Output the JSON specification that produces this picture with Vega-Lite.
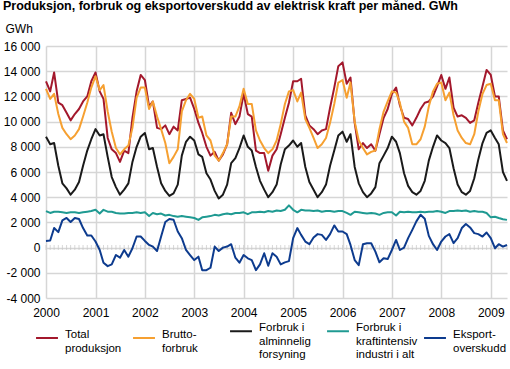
{
  "$schema": "https://vega.github.io/schema/vega-lite/v6.json",
  "autosize": {"type": "none"},
  "padding": {"left": 46, "top": 46, "right": 3, "bottom": 71},
  "width": 461,
  "height": 252,
  "background": "white",
  "config": {
    "font": "Liberation Sans",
    "view": {"stroke": null},
    "axis": {"labelFont": "Liberation Sans", "labelFontSize": 12, "labelColor": "#000000", "gridColor": "#d6d6d6", "gridWidth": 1.5, "domain": false, "ticks": false},
    "legend": {"labelFont": "Liberation Sans", "labelFontSize": 11.5, "labelColor": "#000000"}
  },
  "title": {
    "text": "Produksjon, forbruk og eksportoverskudd av elektrisk kraft per måned. GWh",
    "anchor": "start",
    "frame": "group",
    "font": "Liberation Sans",
    "fontSize": 12.5,
    "fontWeight": "bold",
    "color": "#000000",
    "dx": -43,
    "offset": 10
  },
  "datasets": {
    "rows": [
      {"t":"2000-01-01","Total produksjon":13200,"Bruttoforbruk":12600,"Forbruk i alminnelig forsyning":8800,"Forbruk i kraftintensiv industri i alt":2900,"Eksportoverskudd":530},
      {"t":"2000-02-01","Total produksjon":12400,"Bruttoforbruk":11800,"Forbruk i alminnelig forsyning":8200,"Forbruk i kraftintensiv industri i alt":2750,"Eksportoverskudd":560},
      {"t":"2000-03-01","Total produksjon":13900,"Bruttoforbruk":12200,"Forbruk i alminnelig forsyning":8300,"Forbruk i kraftintensiv industri i alt":2850,"Eksportoverskudd":1550},
      {"t":"2000-04-01","Total produksjon":11500,"Bruttoforbruk":10600,"Forbruk i alminnelig forsyning":6500,"Forbruk i kraftintensiv industri i alt":2850,"Eksportoverskudd":1230},
      {"t":"2000-05-01","Total produksjon":11300,"Bruttoforbruk":9500,"Forbruk i alminnelig forsyning":5100,"Forbruk i kraftintensiv industri i alt":2800,"Eksportoverskudd":2160},
      {"t":"2000-06-01","Total produksjon":10700,"Bruttoforbruk":9000,"Forbruk i alminnelig forsyning":4700,"Forbruk i kraftintensiv industri i alt":2750,"Eksportoverskudd":2350},
      {"t":"2000-07-01","Total produksjon":10100,"Bruttoforbruk":8600,"Forbruk i alminnelig forsyning":4200,"Forbruk i kraftintensiv industri i alt":2800,"Eksportoverskudd":2030},
      {"t":"2000-08-01","Total produksjon":10600,"Bruttoforbruk":8900,"Forbruk i alminnelig forsyning":4600,"Forbruk i kraftintensiv industri i alt":2800,"Eksportoverskudd":2350},
      {"t":"2000-09-01","Total produksjon":11000,"Bruttoforbruk":9400,"Forbruk i alminnelig forsyning":5200,"Forbruk i kraftintensiv industri i alt":2750,"Eksportoverskudd":2270},
      {"t":"2000-10-01","Total produksjon":11600,"Bruttoforbruk":10400,"Forbruk i alminnelig forsyning":6500,"Forbruk i kraftintensiv industri i alt":2800,"Eksportoverskudd":1550},
      {"t":"2000-11-01","Total produksjon":12000,"Bruttoforbruk":11500,"Forbruk i alminnelig forsyning":7700,"Forbruk i kraftintensiv industri i alt":2850,"Eksportoverskudd":960},
      {"t":"2000-12-01","Total produksjon":13200,"Bruttoforbruk":12700,"Forbruk i alminnelig forsyning":8600,"Forbruk i kraftintensiv industri i alt":2900,"Eksportoverskudd":960},
      {"t":"2001-01-01","Total produksjon":13900,"Bruttoforbruk":13600,"Forbruk i alminnelig forsyning":9400,"Forbruk i kraftintensiv industri i alt":3000,"Eksportoverskudd":480},
      {"t":"2001-02-01","Total produksjon":12400,"Bruttoforbruk":12500,"Forbruk i alminnelig forsyning":8900,"Forbruk i kraftintensiv industri i alt":2700,"Eksportoverskudd":-190},
      {"t":"2001-03-01","Total produksjon":11800,"Bruttoforbruk":12900,"Forbruk i alminnelig forsyning":9000,"Forbruk i kraftintensiv industri i alt":3000,"Eksportoverskudd":-1200},
      {"t":"2001-04-01","Total produksjon":8700,"Bruttoforbruk":10800,"Forbruk i alminnelig forsyning":7200,"Forbruk i kraftintensiv industri i alt":2850,"Eksportoverskudd":-1470},
      {"t":"2001-05-01","Total produksjon":7800,"Bruttoforbruk":9200,"Forbruk i alminnelig forsyning":5600,"Forbruk i kraftintensiv industri i alt":2850,"Eksportoverskudd":-1330},
      {"t":"2001-06-01","Total produksjon":7500,"Bruttoforbruk":7900,"Forbruk i alminnelig forsyning":4800,"Forbruk i kraftintensiv industri i alt":2750,"Eksportoverskudd":-590},
      {"t":"2001-07-01","Total produksjon":6800,"Bruttoforbruk":7400,"Forbruk i alminnelig forsyning":4200,"Forbruk i kraftintensiv industri i alt":2700,"Eksportoverskudd":-800},
      {"t":"2001-08-01","Total produksjon":7700,"Bruttoforbruk":7800,"Forbruk i alminnelig forsyning":4600,"Forbruk i kraftintensiv industri i alt":2700,"Eksportoverskudd":-190},
      {"t":"2001-09-01","Total produksjon":7500,"Bruttoforbruk":8100,"Forbruk i alminnelig forsyning":5100,"Forbruk i kraftintensiv industri i alt":2750,"Eksportoverskudd":-720},
      {"t":"2001-10-01","Total produksjon":10300,"Bruttoforbruk":9500,"Forbruk i alminnelig forsyning":6800,"Forbruk i kraftintensiv industri i alt":2750,"Eksportoverskudd":-50},
      {"t":"2001-11-01","Total produksjon":12400,"Bruttoforbruk":11900,"Forbruk i alminnelig forsyning":8000,"Forbruk i kraftintensiv industri i alt":2800,"Eksportoverskudd":880},
      {"t":"2001-12-01","Total produksjon":13700,"Bruttoforbruk":12700,"Forbruk i alminnelig forsyning":8800,"Forbruk i kraftintensiv industri i alt":2750,"Eksportoverskudd":880},
      {"t":"2002-01-01","Total produksjon":13300,"Bruttoforbruk":12700,"Forbruk i alminnelig forsyning":9100,"Forbruk i kraftintensiv industri i alt":2800,"Eksportoverskudd":530},
      {"t":"2002-02-01","Total produksjon":11200,"Bruttoforbruk":11000,"Forbruk i alminnelig forsyning":7800,"Forbruk i kraftintensiv industri i alt":2500,"Eksportoverskudd":210},
      {"t":"2002-03-01","Total produksjon":11600,"Bruttoforbruk":11600,"Forbruk i alminnelig forsyning":7900,"Forbruk i kraftintensiv industri i alt":2750,"Eksportoverskudd":80},
      {"t":"2002-04-01","Total produksjon":9500,"Bruttoforbruk":10400,"Forbruk i alminnelig forsyning":6400,"Forbruk i kraftintensiv industri i alt":2650,"Eksportoverskudd":-270},
      {"t":"2002-05-01","Total produksjon":9400,"Bruttoforbruk":9400,"Forbruk i alminnelig forsyning":5100,"Forbruk i kraftintensiv industri i alt":2700,"Eksportoverskudd":880},
      {"t":"2002-06-01","Total produksjon":9700,"Bruttoforbruk":8300,"Forbruk i alminnelig forsyning":4500,"Forbruk i kraftintensiv industri i alt":2550,"Eksportoverskudd":2030},
      {"t":"2002-07-01","Total produksjon":9000,"Bruttoforbruk":6700,"Forbruk i alminnelig forsyning":4100,"Forbruk i kraftintensiv industri i alt":2600,"Eksportoverskudd":2270},
      {"t":"2002-08-01","Total produksjon":9600,"Bruttoforbruk":7200,"Forbruk i alminnelig forsyning":4300,"Forbruk i kraftintensiv industri i alt":2500,"Eksportoverskudd":2210},
      {"t":"2002-09-01","Total produksjon":9300,"Bruttoforbruk":7800,"Forbruk i alminnelig forsyning":5000,"Forbruk i kraftintensiv industri i alt":2450,"Eksportoverskudd":1280},
      {"t":"2002-10-01","Total produksjon":11700,"Bruttoforbruk":10800,"Forbruk i alminnelig forsyning":7300,"Forbruk i kraftintensiv industri i alt":2500,"Eksportoverskudd":750},
      {"t":"2002-11-01","Total produksjon":11800,"Bruttoforbruk":11700,"Forbruk i alminnelig forsyning":8400,"Forbruk i kraftintensiv industri i alt":2450,"Eksportoverskudd":-190},
      {"t":"2002-12-01","Total produksjon":11900,"Bruttoforbruk":12200,"Forbruk i alminnelig forsyning":8800,"Forbruk i kraftintensiv industri i alt":2400,"Eksportoverskudd":-590},
      {"t":"2003-01-01","Total produksjon":11000,"Bruttoforbruk":11800,"Forbruk i alminnelig forsyning":8500,"Forbruk i kraftintensiv industri i alt":2350,"Eksportoverskudd":-990},
      {"t":"2003-02-01","Total produksjon":9900,"Bruttoforbruk":10300,"Forbruk i alminnelig forsyning":7400,"Forbruk i kraftintensiv industri i alt":2200,"Eksportoverskudd":-720},
      {"t":"2003-03-01","Total produksjon":9100,"Bruttoforbruk":10400,"Forbruk i alminnelig forsyning":7200,"Forbruk i kraftintensiv industri i alt":2400,"Eksportoverskudd":-1790},
      {"t":"2003-04-01","Total produksjon":8000,"Bruttoforbruk":8900,"Forbruk i alminnelig forsyning":5900,"Forbruk i kraftintensiv industri i alt":2450,"Eksportoverskudd":-1790},
      {"t":"2003-05-01","Total produksjon":7300,"Bruttoforbruk":8500,"Forbruk i alminnelig forsyning":5400,"Forbruk i kraftintensiv industri i alt":2500,"Eksportoverskudd":-1600},
      {"t":"2003-06-01","Total produksjon":7600,"Bruttoforbruk":7300,"Forbruk i alminnelig forsyning":4500,"Forbruk i kraftintensiv industri i alt":2600,"Eksportoverskudd":80},
      {"t":"2003-07-01","Total produksjon":6900,"Bruttoforbruk":6900,"Forbruk i alminnelig forsyning":3900,"Forbruk i kraftintensiv industri i alt":2550,"Eksportoverskudd":-270},
      {"t":"2003-08-01","Total produksjon":7400,"Bruttoforbruk":7500,"Forbruk i alminnelig forsyning":4200,"Forbruk i kraftintensiv industri i alt":2650,"Eksportoverskudd":0},
      {"t":"2003-09-01","Total produksjon":8200,"Bruttoforbruk":8200,"Forbruk i alminnelig forsyning":5000,"Forbruk i kraftintensiv industri i alt":2700,"Eksportoverskudd":80},
      {"t":"2003-10-01","Total produksjon":10700,"Bruttoforbruk":10400,"Forbruk i alminnelig forsyning":6700,"Forbruk i kraftintensiv industri i alt":2650,"Eksportoverskudd":270},
      {"t":"2003-11-01","Total produksjon":9800,"Bruttoforbruk":10400,"Forbruk i alminnelig forsyning":7100,"Forbruk i kraftintensiv industri i alt":2750,"Eksportoverskudd":-800},
      {"t":"2003-12-01","Total produksjon":10400,"Bruttoforbruk":11200,"Forbruk i alminnelig forsyning":7900,"Forbruk i kraftintensiv industri i alt":2750,"Eksportoverskudd":-1200},
      {"t":"2004-01-01","Total produksjon":12200,"Bruttoforbruk":12600,"Forbruk i alminnelig forsyning":8900,"Forbruk i kraftintensiv industri i alt":2800,"Eksportoverskudd":-590},
      {"t":"2004-02-01","Total produksjon":10600,"Bruttoforbruk":11400,"Forbruk i alminnelig forsyning":8000,"Forbruk i kraftintensiv industri i alt":2650,"Eksportoverskudd":-850},
      {"t":"2004-03-01","Total produksjon":10400,"Bruttoforbruk":11400,"Forbruk i alminnelig forsyning":7700,"Forbruk i kraftintensiv industri i alt":2800,"Eksportoverskudd":-990},
      {"t":"2004-04-01","Total produksjon":7700,"Bruttoforbruk":9300,"Forbruk i alminnelig forsyning":6400,"Forbruk i kraftintensiv industri i alt":2800,"Eksportoverskudd":-1790},
      {"t":"2004-05-01","Total produksjon":7500,"Bruttoforbruk":8500,"Forbruk i alminnelig forsyning":5300,"Forbruk i kraftintensiv industri i alt":2850,"Eksportoverskudd":-1330},
      {"t":"2004-06-01","Total produksjon":7500,"Bruttoforbruk":7900,"Forbruk i alminnelig forsyning":4600,"Forbruk i kraftintensiv industri i alt":2800,"Eksportoverskudd":-450},
      {"t":"2004-07-01","Total produksjon":6100,"Bruttoforbruk":7500,"Forbruk i alminnelig forsyning":4000,"Forbruk i kraftintensiv industri i alt":2900,"Eksportoverskudd":-1440},
      {"t":"2004-08-01","Total produksjon":7300,"Bruttoforbruk":7800,"Forbruk i alminnelig forsyning":4400,"Forbruk i kraftintensiv industri i alt":2850,"Eksportoverskudd":-450},
      {"t":"2004-09-01","Total produksjon":7800,"Bruttoforbruk":8500,"Forbruk i alminnelig forsyning":5000,"Forbruk i kraftintensiv industri i alt":2950,"Eksportoverskudd":-720},
      {"t":"2004-10-01","Total produksjon":9000,"Bruttoforbruk":9800,"Forbruk i alminnelig forsyning":6600,"Forbruk i kraftintensiv industri i alt":2900,"Eksportoverskudd":-1330},
      {"t":"2004-11-01","Total produksjon":10300,"Bruttoforbruk":11400,"Forbruk i alminnelig forsyning":7800,"Forbruk i kraftintensiv industri i alt":3000,"Eksportoverskudd":-1170},
      {"t":"2004-12-01","Total produksjon":11500,"Bruttoforbruk":12400,"Forbruk i alminnelig forsyning":8100,"Forbruk i kraftintensiv industri i alt":3350,"Eksportoverskudd":-1070},
      {"t":"2005-01-01","Total produksjon":13200,"Bruttoforbruk":12500,"Forbruk i alminnelig forsyning":8500,"Forbruk i kraftintensiv industri i alt":3000,"Eksportoverskudd":750},
      {"t":"2005-02-01","Total produksjon":13200,"Bruttoforbruk":11600,"Forbruk i alminnelig forsyning":8000,"Forbruk i kraftintensiv industri i alt":2800,"Eksportoverskudd":1550},
      {"t":"2005-03-01","Total produksjon":13400,"Bruttoforbruk":12300,"Forbruk i alminnelig forsyning":8300,"Forbruk i kraftintensiv industri i alt":3000,"Eksportoverskudd":1010},
      {"t":"2005-04-01","Total produksjon":10500,"Bruttoforbruk":10200,"Forbruk i alminnelig forsyning":6400,"Forbruk i kraftintensiv industri i alt":2950,"Eksportoverskudd":480},
      {"t":"2005-05-01","Total produksjon":9700,"Bruttoforbruk":9500,"Forbruk i alminnelig forsyning":5200,"Forbruk i kraftintensiv industri i alt":2950,"Eksportoverskudd":270},
      {"t":"2005-06-01","Total produksjon":9400,"Bruttoforbruk":8700,"Forbruk i alminnelig forsyning":4600,"Forbruk i kraftintensiv industri i alt":2900,"Eksportoverskudd":800},
      {"t":"2005-07-01","Total produksjon":9000,"Bruttoforbruk":7900,"Forbruk i alminnelig forsyning":4000,"Forbruk i kraftintensiv industri i alt":2950,"Eksportoverskudd":1070},
      {"t":"2005-08-01","Total produksjon":9300,"Bruttoforbruk":8200,"Forbruk i alminnelig forsyning":4400,"Forbruk i kraftintensiv industri i alt":2850,"Eksportoverskudd":1010},
      {"t":"2005-09-01","Total produksjon":9400,"Bruttoforbruk":8700,"Forbruk i alminnelig forsyning":5000,"Forbruk i kraftintensiv industri i alt":2900,"Eksportoverskudd":610},
      {"t":"2005-10-01","Total produksjon":11100,"Bruttoforbruk":9900,"Forbruk i alminnelig forsyning":6500,"Forbruk i kraftintensiv industri i alt":2900,"Eksportoverskudd":1070},
      {"t":"2005-11-01","Total produksjon":12700,"Bruttoforbruk":11400,"Forbruk i alminnelig forsyning":7700,"Forbruk i kraftintensiv industri i alt":2850,"Eksportoverskudd":1760},
      {"t":"2005-12-01","Total produksjon":14400,"Bruttoforbruk":13100,"Forbruk i alminnelig forsyning":8900,"Forbruk i kraftintensiv industri i alt":2900,"Eksportoverskudd":1280},
      {"t":"2006-01-01","Total produksjon":14700,"Bruttoforbruk":13300,"Forbruk i alminnelig forsyning":9200,"Forbruk i kraftintensiv industri i alt":2900,"Eksportoverskudd":1280},
      {"t":"2006-02-01","Total produksjon":13000,"Bruttoforbruk":11900,"Forbruk i alminnelig forsyning":8400,"Forbruk i kraftintensiv industri i alt":2750,"Eksportoverskudd":1070},
      {"t":"2006-03-01","Total produksjon":13500,"Bruttoforbruk":13100,"Forbruk i alminnelig forsyning":9000,"Forbruk i kraftintensiv industri i alt":2600,"Eksportoverskudd":210},
      {"t":"2006-04-01","Total produksjon":9900,"Bruttoforbruk":10000,"Forbruk i alminnelig forsyning":6400,"Forbruk i kraftintensiv industri i alt":2850,"Eksportoverskudd":-990},
      {"t":"2006-05-01","Total produksjon":7800,"Bruttoforbruk":8500,"Forbruk i alminnelig forsyning":5100,"Forbruk i kraftintensiv industri i alt":2800,"Eksportoverskudd":-1390},
      {"t":"2006-06-01","Total produksjon":8300,"Bruttoforbruk":7900,"Forbruk i alminnelig forsyning":4400,"Forbruk i kraftintensiv industri i alt":2750,"Eksportoverskudd":270},
      {"t":"2006-07-01","Total produksjon":7900,"Bruttoforbruk":7400,"Forbruk i alminnelig forsyning":4000,"Forbruk i kraftintensiv industri i alt":2700,"Eksportoverskudd":350},
      {"t":"2006-08-01","Total produksjon":8200,"Bruttoforbruk":7600,"Forbruk i alminnelig forsyning":4300,"Forbruk i kraftintensiv industri i alt":2750,"Eksportoverskudd":350},
      {"t":"2006-09-01","Total produksjon":7700,"Bruttoforbruk":7700,"Forbruk i alminnelig forsyning":4800,"Forbruk i kraftintensiv industri i alt":2700,"Eksportoverskudd":-320},
      {"t":"2006-10-01","Total produksjon":9000,"Bruttoforbruk":9400,"Forbruk i alminnelig forsyning":6700,"Forbruk i kraftintensiv industri i alt":2600,"Eksportoverskudd":-1170},
      {"t":"2006-11-01","Total produksjon":10300,"Bruttoforbruk":10800,"Forbruk i alminnelig forsyning":7300,"Forbruk i kraftintensiv industri i alt":2750,"Eksportoverskudd":-850},
      {"t":"2006-12-01","Total produksjon":11000,"Bruttoforbruk":11600,"Forbruk i alminnelig forsyning":7900,"Forbruk i kraftintensiv industri i alt":2800,"Eksportoverskudd":-910},
      {"t":"2007-01-01","Total produksjon":12200,"Bruttoforbruk":12400,"Forbruk i alminnelig forsyning":8800,"Forbruk i kraftintensiv industri i alt":2800,"Eksportoverskudd":-190},
      {"t":"2007-02-01","Total produksjon":12700,"Bruttoforbruk":12300,"Forbruk i alminnelig forsyning":8400,"Forbruk i kraftintensiv industri i alt":2550,"Eksportoverskudd":610},
      {"t":"2007-03-01","Total produksjon":11300,"Bruttoforbruk":11500,"Forbruk i alminnelig forsyning":7500,"Forbruk i kraftintensiv industri i alt":2850,"Eksportoverskudd":-190},
      {"t":"2007-04-01","Total produksjon":10300,"Bruttoforbruk":10000,"Forbruk i alminnelig forsyning":5900,"Forbruk i kraftintensiv industri i alt":2800,"Eksportoverskudd":0},
      {"t":"2007-05-01","Total produksjon":10200,"Bruttoforbruk":9500,"Forbruk i alminnelig forsyning":4900,"Forbruk i kraftintensiv industri i alt":2850,"Eksportoverskudd":750},
      {"t":"2007-06-01","Total produksjon":9700,"Bruttoforbruk":8200,"Forbruk i alminnelig forsyning":4400,"Forbruk i kraftintensiv industri i alt":2800,"Eksportoverskudd":1410},
      {"t":"2007-07-01","Total produksjon":10300,"Bruttoforbruk":8200,"Forbruk i alminnelig forsyning":4200,"Forbruk i kraftintensiv industri i alt":2800,"Eksportoverskudd":2080},
      {"t":"2007-08-01","Total produksjon":11000,"Bruttoforbruk":8600,"Forbruk i alminnelig forsyning":4500,"Forbruk i kraftintensiv industri i alt":2850,"Eksportoverskudd":2610},
      {"t":"2007-09-01","Total produksjon":11500,"Bruttoforbruk":9600,"Forbruk i alminnelig forsyning":5300,"Forbruk i kraftintensiv industri i alt":2800,"Eksportoverskudd":2290},
      {"t":"2007-10-01","Total produksjon":11600,"Bruttoforbruk":11200,"Forbruk i alminnelig forsyning":6900,"Forbruk i kraftintensiv industri i alt":2850,"Eksportoverskudd":930},
      {"t":"2007-11-01","Total produksjon":12000,"Bruttoforbruk":12400,"Forbruk i alminnelig forsyning":8000,"Forbruk i kraftintensiv industri i alt":2850,"Eksportoverskudd":270},
      {"t":"2007-12-01","Total produksjon":12800,"Bruttoforbruk":13000,"Forbruk i alminnelig forsyning":8900,"Forbruk i kraftintensiv industri i alt":2900,"Eksportoverskudd":-190},
      {"t":"2008-01-01","Total produksjon":13700,"Bruttoforbruk":13100,"Forbruk i alminnelig forsyning":8500,"Forbruk i kraftintensiv industri i alt":2850,"Eksportoverskudd":480},
      {"t":"2008-02-01","Total produksjon":12600,"Bruttoforbruk":11700,"Forbruk i alminnelig forsyning":8300,"Forbruk i kraftintensiv industri i alt":2750,"Eksportoverskudd":880},
      {"t":"2008-03-01","Total produksjon":13500,"Bruttoforbruk":12300,"Forbruk i alminnelig forsyning":7900,"Forbruk i kraftintensiv industri i alt":2900,"Eksportoverskudd":1070},
      {"t":"2008-04-01","Total produksjon":11100,"Bruttoforbruk":10500,"Forbruk i alminnelig forsyning":6300,"Forbruk i kraftintensiv industri i alt":2900,"Eksportoverskudd":350},
      {"t":"2008-05-01","Total produksjon":10400,"Bruttoforbruk":9300,"Forbruk i alminnelig forsyning":5000,"Forbruk i kraftintensiv industri i alt":2950,"Eksportoverskudd":750},
      {"t":"2008-06-01","Total produksjon":10500,"Bruttoforbruk":8700,"Forbruk i alminnelig forsyning":4400,"Forbruk i kraftintensiv industri i alt":2900,"Eksportoverskudd":1550},
      {"t":"2008-07-01","Total produksjon":10300,"Bruttoforbruk":8300,"Forbruk i alminnelig forsyning":4200,"Forbruk i kraftintensiv industri i alt":2950,"Eksportoverskudd":1870},
      {"t":"2008-08-01","Total produksjon":9900,"Bruttoforbruk":8200,"Forbruk i alminnelig forsyning":4500,"Forbruk i kraftintensiv industri i alt":2850,"Eksportoverskudd":1600},
      {"t":"2008-09-01","Total produksjon":10100,"Bruttoforbruk":9000,"Forbruk i alminnelig forsyning":5500,"Forbruk i kraftintensiv industri i alt":2900,"Eksportoverskudd":1150},
      {"t":"2008-10-01","Total produksjon":11500,"Bruttoforbruk":10800,"Forbruk i alminnelig forsyning":7000,"Forbruk i kraftintensiv industri i alt":2850,"Eksportoverskudd":1070},
      {"t":"2008-11-01","Total produksjon":12800,"Bruttoforbruk":12200,"Forbruk i alminnelig forsyning":8300,"Forbruk i kraftintensiv industri i alt":2850,"Eksportoverskudd":880},
      {"t":"2008-12-01","Total produksjon":14100,"Bruttoforbruk":12900,"Forbruk i alminnelig forsyning":9100,"Forbruk i kraftintensiv industri i alt":2750,"Eksportoverskudd":1200},
      {"t":"2009-01-01","Total produksjon":13700,"Bruttoforbruk":13000,"Forbruk i alminnelig forsyning":9300,"Forbruk i kraftintensiv industri i alt":2400,"Eksportoverskudd":750},
      {"t":"2009-02-01","Total produksjon":12000,"Bruttoforbruk":11700,"Forbruk i alminnelig forsyning":8700,"Forbruk i kraftintensiv industri i alt":2450,"Eksportoverskudd":-50},
      {"t":"2009-03-01","Total produksjon":12000,"Bruttoforbruk":11700,"Forbruk i alminnelig forsyning":8200,"Forbruk i kraftintensiv industri i alt":2350,"Eksportoverskudd":270},
      {"t":"2009-04-01","Total produksjon":9300,"Bruttoforbruk":9000,"Forbruk i alminnelig forsyning":6000,"Forbruk i kraftintensiv industri i alt":2250,"Eksportoverskudd":80},
      {"t":"2009-05-01","Total produksjon":8600,"Bruttoforbruk":8300,"Forbruk i alminnelig forsyning":5300,"Forbruk i kraftintensiv industri i alt":2200,"Eksportoverskudd":210}
    ]
  },
  "data": {"name": "rows"},
  "layer": [
    {
      "mark": {"type": "tick", "orient": "vertical", "size": 5, "thickness": 1, "color": "#c8c8c8"},
      "encoding": {
        "x": {
          "field": "t", "type": "temporal",
          "scale": {"type": "utc", "domain": ["2000-01-01", "2009-05-01"], "nice": false},
          "axis": {"title": null, "format": "%Y", "formatType": "utc", "tickCount": {"interval": "year", "step": 1}, "grid": true, "labelPadding": 9, "labelAlign": "center"}
        },
        "y": {
          "datum": 0, "type": "quantitative",
          "scale": {"domain": [-4000, 16000], "nice": false, "zero": false},
          "axis": {
            "title": "GWh", "titleAngle": 0, "titleX": -41, "titleY": -14, "titleAlign": "left", "titleBaseline": "alphabetic",
            "titleFont": "Liberation Sans", "titleFontSize": 12, "titleFontWeight": "normal", "titleColor": "#000000",
            "values": [-4000, -2000, 0, 2000, 4000, 6000, 8000, 10000, 12000, 14000, 16000],
            "tickCount": 20,
            "labelOverlap": false,
            "labelExpr": "replace(replace(format(datum.value, ',d'), ',', ' '), '\u2212', '-')",
            "labelPadding": 6, "grid": true
          }
        }
      }
    },
    {
      "transform": [
        {"fold": ["Total produksjon", "Bruttoforbruk", "Forbruk i alminnelig forsyning", "Forbruk i kraftintensiv industri i alt", "Eksportoverskudd"], "as": ["serie", "verdi"]}
      ],
      "mark": {"type": "line", "strokeWidth": 2, "strokeJoin": "round"},
      "encoding": {
        "x": {
          "field": "t", "type": "temporal",
          "scale": {"type": "utc", "domain": ["2000-01-01", "2009-05-01"], "nice": false},
          "axis": {"title": null, "format": "%Y", "formatType": "utc", "tickCount": {"interval": "year", "step": 1}, "grid": true, "labelPadding": 9, "labelAlign": "center"}
        },
        "y": {
          "field": "verdi", "type": "quantitative",
          "scale": {"domain": [-4000, 16000], "nice": false, "zero": false},
          "axis": {
            "title": "GWh", "titleAngle": 0, "titleX": -41, "titleY": -14, "titleAlign": "left", "titleBaseline": "alphabetic",
            "titleFont": "Liberation Sans", "titleFontSize": 12, "titleFontWeight": "normal", "titleColor": "#000000",
            "values": [-4000, -2000, 0, 2000, 4000, 6000, 8000, 10000, 12000, 14000, 16000],
            "tickCount": 20,
            "labelOverlap": false,
            "labelExpr": "replace(replace(format(datum.value, ',d'), ',', ' '), '\u2212', '-')",
            "labelPadding": 6, "grid": true
          }
        },
        "color": {
          "field": "serie", "type": "nominal",
          "scale": {
            "domain": ["Total produksjon", "Bruttoforbruk", "Forbruk i alminnelig forsyning", "Forbruk i kraftintensiv industri i alt", "Eksportoverskudd"],
            "range": ["#a3182c", "#f6a031", "#1a1a1a", "#1f9a92", "#0d3b8e"]
          },
          "legend": {
            "title": null,
            "orient": "none",
            "legendX": -11,
            "legendY": 273,
            "direction": "horizontal",
            "columns": 5,
            "gridAlign": "all",
            "columnPadding": 2,
            "symbolType": "stroke",
            "symbolSize": 480,
            "symbolStrokeWidth": 2,
            "labelOffset": 6,
            "labelBaseline": "alphabetic",
            "labelLimit": 200,
            "labelExpr": "datum.label == 'Total produksjon' ? ['Total', 'produksjon'] : datum.label == 'Bruttoforbruk' ? ['Brutto-', 'forbruk'] : datum.label == 'Forbruk i alminnelig forsyning' ? ['Forbruk i', 'alminnelig', 'forsyning'] : datum.label == 'Forbruk i kraftintensiv industri i alt' ? ['Forbruk i', 'kraftintensiv', 'industri i alt'] : ['Eksport-', 'overskudd']"
          }
        }
      }
    }
  ]
}
